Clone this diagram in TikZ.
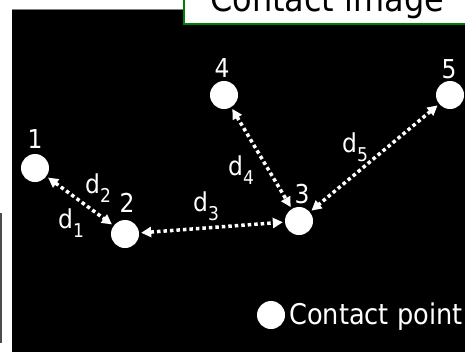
\documentclass[tikz,border=0pt]{standalone}
\usepackage{fontspec}
\setmainfont{DejaVu Sans Condensed}
\usepackage{tikz}
\usetikzlibrary{arrows.meta}
\tikzset{>={Triangle[length=10pt,width=10pt]}}
\tikzset{
  contact/.style={circle,fill=white,minimum size=28pt,inner sep=0pt},
  num/.style={text=white,anchor=base,inner sep=0pt,font=\fontsize{26}{28}\selectfont},
  dlab/.style={text=white,anchor=base west,inner sep=0pt,font=\fontsize{26}{28}\selectfont},
  dist/.style={<->,white,line width=3.5pt,dash pattern=on 3.5pt off 3pt,shorten <=2pt,shorten >=2pt},
}
\newcommand{\dsub}[1]{d\raisebox{-0.38em}{\fontsize{19}{20}\selectfont #1}}

\begin{document}
\begin{tikzpicture}[x=1pt,y=-1pt]
    \useasboundingbox (0,0) rectangle (465,351);
    \clip (0,0) rectangle (465,351);
    \fill[white] (0,0) rectangle (465,351);
    \draw[gray!60!black,line width=1.5pt] (0.75,213)--(0.75,343);
    \fill[black] (12,9) rectangle (470,360);
    \draw[gray,line width=0.8pt] (12,9.4)--(470,9.4);

    % title box
    \draw[green!50!black,line width=2pt,fill=white] (184,-10) rectangle (480,24);
    \node[anchor=base west,inner sep=0pt,font=\fontsize{35.5}{38}\selectfont] (title) at (210,11) {Contact image};

    % contact points
    \node[contact] (c1) at (35,168) {};
    \node[contact] (c2) at (125,234) {};
    \node[contact] (c3) at (299,221) {};
    \node[contact] (c4) at (224,95) {};
    \node[contact] (c5) at (450,95) {};

    \node[num] (n1) at (35,148) {1};
    \node[num] (n2) at (127,212) {2};
    \node[num] (n3) at (302,203) {3};
    \node[num] (n4) at (222,77) {4};
    \node[num] (n5) at (449,78) {5};

    % distances
    \draw[dist] (c1)--(c2);
    \draw[dist] (c2)--(c3);
    \draw[dist] (c4)--(c3);
    \draw[dist] (c5)--(c3);

    \node[dlab] (d1) at (58,228) {\dsub{1}};
    \node[dlab] (d2) at (85,193) {\dsub{2}};
    \node[dlab] (d3) at (193,211) {\dsub{3}};
    \node[dlab] (d4) at (228,175) {\dsub{4}};
    \node[dlab] (d5) at (342,152) {\dsub{5}};

    % legend
    \node[contact] (key) at (271,315) {};
    \node[text=white,anchor=base west,inner sep=0pt,font=\fontsize{28.5}{30}\selectfont] (keytext) at (289,324) {Contact point};
\end{tikzpicture}
\end{document}
